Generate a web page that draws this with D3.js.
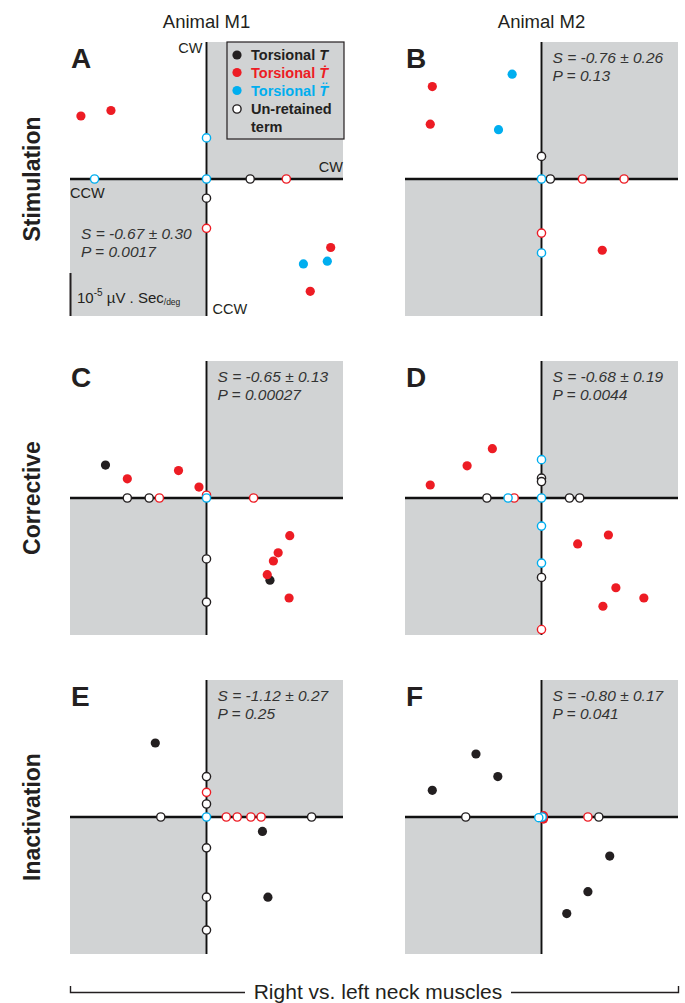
<!DOCTYPE html>
<html>
<head>
<meta charset="utf-8">
<title>Torsional neck muscle maps</title>
<script src="https://d3js.org/d3.v7.min.js"></script>
<style>
  body { margin: 0; background: #fff; }
  text { font-family: "Liberation Sans", Arial, Helvetica, sans-serif; }
</style>
</head>
<body>
<svg id="chart" width="685" height="1003"></svg>
<script>
// terms and their colours
var termKeys = ["T", "Td", "Tdd"];
var termColors = ["#231f20", "#ed1c24", "#00aeef"];

var columnTitles = ["Animal M1", "Animal M2"];
var rowTitles = ["Stimulation", "Corrective", "Inactivation"];
var panelLetters = ["A", "B", "C", "D", "E", "F"];
var statS = ["-0.67 \u00b1 0.30", "-0.76 \u00b1 0.26", "-0.65 \u00b1 0.13",
             "-0.68 \u00b1 0.19", "-1.12 \u00b1 0.27", "-0.80 \u00b1 0.17"];
var statP = ["0.0017", "0.13", "0.00027", "0.0044", "0.25", "0.041"];

// points: [right-left x, torsional y, term, retained (1 = filled)]
var pointsA = [
  [-9.2, 4.6, "Td", 1], [-7.0, 5.0, "Td", 1],
  [0, 3.0, "Tdd", 0], [-8.2, 0, "Tdd", 0], [3.2, 0, "T", 0], [5.85, 0, "Td", 0],
  [0, -1.4, "T", 0], [0, -3.6, "Td", 0], [0, 0, "Tdd", 0],
  [9.1, -5.0, "Td", 1], [7.6, -8.2, "Td", 1], [7.1, -6.2, "Tdd", 1], [8.85, -6.0, "Tdd", 1]
];
var pointsB = [
  [-2.15, 7.65, "Tdd", 1], [-3.15, 3.6, "Tdd", 1], [-8.0, 6.75, "Td", 1], [-8.15, 4.0, "Td", 1],
  [0, 1.65, "T", 0], [0.65, 0, "T", 0], [3.0, 0, "Td", 0], [6.05, 0, "Td", 0],
  [0, -3.95, "Td", 0], [0, -5.4, "Tdd", 0], [0, 0, "Tdd", 0],
  [4.45, -5.2, "Td", 1]
];
var pointsC = [
  [-7.4, 2.4, "T", 1], [-5.8, 1.4, "Td", 1], [-2.05, 2.0, "Td", 1], [-0.55, 0.8, "Td", 1],
  [0, 0.2, "Td", 0], [-5.8, 0, "T", 0], [-4.2, 0, "T", 0], [-3.45, 0, "Td", 0], [3.45, 0, "Td", 0],
  [0, 0, "Tdd", 0], [0, -4.45, "T", 0], [0, -7.6, "T", 0],
  [4.65, -6.0, "T", 1], [6.1, -2.75, "Td", 1], [5.25, -4.0, "Td", 1], [4.9, -4.6, "Td", 1],
  [4.45, -5.6, "Td", 1], [6.05, -7.3, "Td", 1]
];
var pointsD = [
  [-8.15, 0.95, "Td", 1], [-5.45, 2.35, "Td", 1], [-3.6, 3.6, "Td", 1],
  [0, 2.8, "Tdd", 0], [0, 1.45, "T", 0], [0, 1.2, "T", 0],
  [-4.0, 0, "T", 0], [-2.0, 0, "Td", 0], [-2.45, 0, "Tdd", 0], [2.05, 0, "T", 0], [2.8, 0, "T", 0],
  [0, 0, "Tdd", 0], [0, -2.05, "Tdd", 0], [0, -4.75, "Tdd", 0], [0, -5.8, "T", 0], [0, -9.6, "Td", 0],
  [2.65, -3.35, "Td", 1], [4.9, -2.7, "Td", 1], [5.45, -6.55, "Td", 1], [4.5, -7.9, "Td", 1], [7.5, -7.3, "Td", 1]
];
var pointsE = [
  [-3.75, 5.4, "T", 1],
  [0, 2.95, "T", 0], [0, 1.8, "Td", 0], [0, 0.95, "T", 0], [-3.35, 0, "T", 0], [7.7, 0, "T", 0],
  [1.45, 0, "Td", 0], [2.25, 0, "Td", 0], [3.25, 0, "Td", 0], [4.0, 0, "Td", 0], [0, 0, "Tdd", 0],
  [0, -2.25, "T", 0], [0, -5.85, "T", 0], [0, -8.25, "T", 0],
  [4.1, -1.05, "T", 1], [4.5, -5.85, "T", 1]
];
var pointsF = [
  [-8.0, 1.95, "T", 1], [-4.8, 4.6, "T", 1], [-3.2, 2.95, "T", 1],
  [-5.55, 0, "T", 0], [3.4, 0, "Td", 0], [4.2, 0, "T", 0],
  [0.15, 0.1, "Td", 1], [0.15, -0.15, "Td", 1], [0.05, 0, "Tdd", 0], [-0.2, -0.05, "Tdd", 0],
  [5.0, -2.85, "T", 1], [3.4, -5.45, "T", 1], [1.85, -7.05, "T", 1]
];
var panelPoints = [pointsA, pointsB, pointsC, pointsD, pointsE, pointsF];

// legend entries
var legendLabels = ["T", "T\u0307", "T\u0308"];

var svg = d3.select("#chart");
var colX = [70, 405], rowY = [42, 361, 680];
var panelW = 273, panelH = 274;
var gray = "#d1d3d4";
var color = d3.scaleOrdinal().domain(termKeys).range(termColors);

// column titles
svg.selectAll(".coltitle").data(columnTitles).enter().append("text")
  .attr("x", function(d, i) { return colX[i] + panelW / 2; })
  .attr("y", 28)
  .attr("text-anchor", "middle")
  .attr("font-size", 18.5)
  .attr("fill", "#231f20")
  .text(function(d) { return d; });

// row titles
svg.selectAll(".rowtitle").data(rowTitles).enter().append("text")
  .attr("transform", function(d, i) { return "translate(40," + (rowY[i] + panelH / 2) + ") rotate(-90)"; })
  .attr("text-anchor", "middle")
  .attr("font-size", 23)
  .attr("font-weight", "bold")
  .attr("fill", "#231f20")
  .text(function(d) { return d; });

panelPoints.forEach(function(points, i) {
  var col = i % 2, row = Math.floor(i / 2);
  var x0 = colX[col], y0 = rowY[row];
  var x = d3.scaleLinear().domain([-10, 10]).range([x0, x0 + panelW]);
  var y = d3.scaleLinear().domain([-10, 10]).range([y0 + panelH, y0]);
  var g = svg.append("g").attr("class", "panel");

  // shaded quadrants (upper right, lower left)
  g.append("rect").attr("x", x(0)).attr("y", y(10))
    .attr("width", x(10) - x(0)).attr("height", y(0) - y(10)).attr("fill", gray);
  g.append("rect").attr("x", x(-10)).attr("y", y(0))
    .attr("width", x(0) - x(-10)).attr("height", y(-10) - y(0)).attr("fill", gray);

  // axes
  g.append("line").attr("x1", x(-10)).attr("x2", x(10)).attr("y1", y(0)).attr("y2", y(0))
    .attr("stroke", "#111").attr("stroke-width", 2.7);
  g.append("line").attr("x1", x(0)).attr("x2", x(0)).attr("y1", y(10)).attr("y2", y(-10))
    .attr("stroke", "#111").attr("stroke-width", 1.9);

  // panel letter
  g.append("text").attr("x", x0 + 1).attr("y", y0 + 26)
    .attr("font-size", 28).attr("font-weight", "bold").attr("fill", "#231f20")
    .text(panelLetters[i]);

  // statistics
  var sx = i === 0 ? x0 + 11 : x(0) + 11;
  var sy = i === 0 ? y(0) + 60 : y0 + 21;
  var st = g.append("text").attr("font-size", 15.5).attr("font-style", "italic").attr("fill", "#333");
  st.append("tspan").attr("x", sx).attr("y", sy).text("S = " + statS[i]);
  st.append("tspan").attr("x", sx).attr("y", sy + 17.5).text("P = " + statP[i]);

  // points
  g.selectAll("circle.pt").data(points).enter().append("circle")
    .attr("class", "pt")
    .attr("cx", function(d) { return x(d[0]); })
    .attr("cy", function(d) { return y(d[1]); })
    .attr("r", function(d) { return d[3] ? 4.6 : 4.1; })
    .attr("fill", function(d) { return d[3] ? color(d[2]) : "#fff"; })
    .attr("stroke", function(d) { return d[3] ? "none" : color(d[2]); })
    .attr("stroke-width", 1.4);

  if (i === 0) {
    // direction labels
    var lab = [
      { t: "CW", x: x(0) - 4, y: y0 + 11, a: "end" },
      { t: "CW", x: x(10), y: y(0) - 7, a: "end" },
      { t: "CCW", x: x(-10), y: y(0) + 19, a: "start" },
      { t: "CCW", x: x(0) + 6, y: y0 + panelH - 2, a: "start" }
    ];
    g.selectAll("text.dir").data(lab).enter().append("text")
      .attr("x", function(d) { return d.x; }).attr("y", function(d) { return d.y; })
      .attr("text-anchor", function(d) { return d.a; })
      .attr("font-size", 14.5).attr("fill", "#231f20")
      .text(function(d) { return d.t; });

    // scale bar
    g.append("line").attr("x1", x0 + 0.5).attr("x2", x0 + 0.5)
      .attr("y1", y0 + panelH - 43).attr("y2", y0 + panelH)
      .attr("stroke", "#231f20").attr("stroke-width", 2);
    var sb = g.append("text").attr("x", x0 + 7).attr("y", y0 + panelH - 13)
      .attr("font-size", 15).attr("fill", "#231f20");
    sb.append("tspan").text("10");
    sb.append("tspan").attr("font-size", 10).attr("dy", -7).text("-5");
    sb.append("tspan").attr("dy", 7).text(" \u00b5V . Sec");
    sb.append("tspan").attr("font-size", 8.5).attr("dy", 2).text("/deg");

    // legend
    var lx = 227, ly = 42;
    g.append("rect").attr("x", lx).attr("y", ly).attr("width", 117).attr("height", 97)
      .attr("fill", gray).attr("stroke", "#231f20").attr("stroke-width", 1.2);
    var rows = [55, 72.5, 90.5];
    termKeys.forEach(function(k, j) {
      g.append("circle").attr("cx", lx + 10).attr("cy", rows[j]).attr("r", 4.6).attr("fill", color(k));
      var t = g.append("text").attr("x", lx + 24).attr("y", rows[j] + 5)
        .attr("font-size", 14.5).attr("font-weight", "bold").attr("fill", color(k));
      t.append("tspan").text("Torsional ");
      t.append("tspan").attr("font-style", "italic").text(legendLabels[j]);
    });
    g.append("circle").attr("cx", lx + 10).attr("cy", 109).attr("r", 4.1)
      .attr("fill", "#fff").attr("stroke", "#231f20").attr("stroke-width", 1.4);
    var ut = g.append("text").attr("font-size", 14.5).attr("font-weight", "bold").attr("fill", "#231f20");
    ut.append("tspan").attr("x", lx + 24).attr("y", 114).text("Un-retained");
    ut.append("tspan").attr("x", lx + 24).attr("y", 132).text("term");
  }
});

// bottom bracket
svg.append("path")
  .attr("d", "M70.5,986 V992.5 H245 M511,992.5 H678.5 V986")
  .attr("fill", "none").attr("stroke", "#231f20").attr("stroke-width", 1.4);
svg.append("text").attr("x", 378).attr("y", 999)
  .attr("text-anchor", "middle").attr("font-size", 21).attr("fill", "#231f20")
  .text("Right vs. left neck muscles");
</script>
</body>
</html>
